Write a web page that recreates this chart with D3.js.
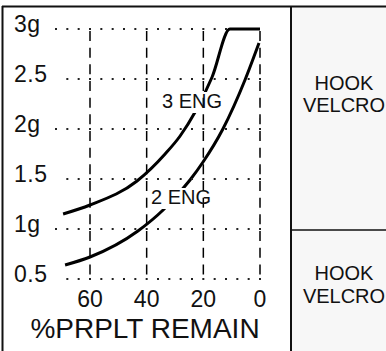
<!DOCTYPE html>
<html>
<head>
<meta charset="utf-8">
<script src="https://cdn.jsdelivr.net/npm/d3@7"></script>
<style>
  body { margin: 0; background: #fff; }
  text { font-family: "Liberation Sans", Arial, sans-serif; fill: #111; }
</style>
</head>
<body>
<script>
// values
var pctTicks = [60, 40, 20, 0];
var gTicks = [3, 2.5, 2, 1.5, 1, 0.5];
var gTickLabels = ["3g", "2.5", "2g", "1.5", "1g", "0.5"];

var eng3Pct = [69.5, 60, 43.4, 33.5, 28.2, 22.9, 16.9, 10.6, 0];
var eng3G   = [1.15, 1.24, 1.48, 1.75, 1.93, 2.17, 2.52, 3.0, 3.0];

var eng2Pct = [68.8, 60, 43.1, 34.2, 24.7, 20.1, 13.1, 5.3, 0.35];
var eng2G   = [0.64, 0.72, 0.98, 1.19, 1.49, 1.67, 2.0, 2.49, 2.86];

var panelLabels = ["HOOK", "VELCRO"];

var width = 386, height = 351;

var svg = d3.select("body").append("svg")
    .attr("width", width)
    .attr("height", height);

// scales: 0% at the right, 60% to the left
var x = d3.scaleLinear().domain([60, 0]).range([90, 260]);
var y = d3.scaleLinear().domain([0.5, 3]).range([279, 29]);

// right hand panel
svg.append("rect")
    .attr("x", 291).attr("y", 6)
    .attr("width", width - 291).attr("height", height - 6)
    .attr("fill", "#f7f7f7");

// curves
var line = d3.line()
    .x(d => x(d[0]))
    .y(d => y(d[1]))
    .curve(d3.curveMonotoneX);

var curves = [d3.zip(eng3Pct, eng3G), d3.zip(eng2Pct, eng2G)];
svg.selectAll(".curve")
    .data(curves)
    .enter().append("path")
    .attr("class", "curve")
    .attr("d", line)
    .attr("fill", "none")
    .attr("stroke", "#000")
    .attr("stroke-width", 3);

// white patches behind the curve labels
var curveLabels = [
    { text: "3 ENG", x0: 161, y0: 92, w: 63, h: 21 },
    { text: "2 ENG", x0: 150, y0: 188, w: 62, h: 21 }
];
svg.selectAll(".lblbg")
    .data(curveLabels)
    .enter().append("rect")
    .attr("x", d => d.x0).attr("y", d => d.y0)
    .attr("width", d => d.w).attr("height", d => d.h)
    .attr("fill", "#fff");

// vertical dashed grid
svg.selectAll(".vgrid")
    .data(pctTicks)
    .enter().append("line")
    .attr("x1", d => x(d)).attr("x2", d => x(d))
    .attr("y1", y(3) + 2).attr("y2", y(0.5))
    .attr("stroke", "#000")
    .attr("stroke-width", 1.5)
    .attr("stroke-dasharray", "10,6.67");

// horizontal dotted grid, one dot every 4%
gTicks.forEach(function (g, i) {
    var start = gTickLabels[i].length > 2 ? 68 : 72;
    var dots = d3.range(0, start + 1, 4);
    if (g === 3) dots = dots.filter(p => p > 10);
    svg.selectAll(null)
        .data(dots)
        .enter().append("rect")
        .attr("x", d => x(d) - 1)
        .attr("y", y(g) - 1)
        .attr("width", 2).attr("height", 2)
        .attr("fill", "#222");
});

// curve labels
svg.selectAll(".lbl")
    .data(curveLabels)
    .enter().append("text")
    .attr("x", d => d.x0 + 1)
    .attr("y", d => d.y0 + 16)
    .attr("font-size", "20px")
    .text(d => d.text);

// y tick labels
svg.selectAll(".ylab")
    .data(gTicks)
    .enter().append("text")
    .attr("x", 14)
    .attr("y", d => y(d) + 3)
    .attr("font-size", "23px")
    .attr("letter-spacing", "0.5px")
    .text((d, i) => gTickLabels[i]);

// x tick labels
svg.selectAll(".xlab")
    .data(pctTicks)
    .enter().append("text")
    .attr("x", d => x(d))
    .attr("y", 307)
    .attr("text-anchor", "middle")
    .attr("font-size", "23px")
    .text(d => d);

// axis title
svg.append("text")
    .attr("x", 145)
    .attr("y", 338)
    .attr("text-anchor", "middle")
    .attr("font-size", "28px")
    .text("%PRPLT REMAIN");

// panel texts
[[90, 112], [280, 303]].forEach(function (b) {
    panelLabels.forEach(function (t, i) {
        svg.append("text")
            .attr("x", 344)
            .attr("y", b[i])
            .attr("text-anchor", "middle")
            .attr("font-size", "20px")
            .text(t);
    });
});

// frame
var frame = svg.append("g").attr("stroke", "#111").attr("fill", "none");
frame.append("line").attr("x1", 2).attr("x2", width).attr("y1", 6.5).attr("y2", 6.5).attr("stroke-width", 2);
frame.append("line").attr("x1", 2.5).attr("x2", 2.5).attr("y1", 6).attr("y2", height).attr("stroke-width", 2);
frame.append("line").attr("x1", 291).attr("x2", 291).attr("y1", 6).attr("y2", height).attr("stroke-width", 2);
frame.append("line").attr("x1", 291).attr("x2", width).attr("y1", 230).attr("y2", 230).attr("stroke-width", 1.5);
</script>
</body>
</html>
